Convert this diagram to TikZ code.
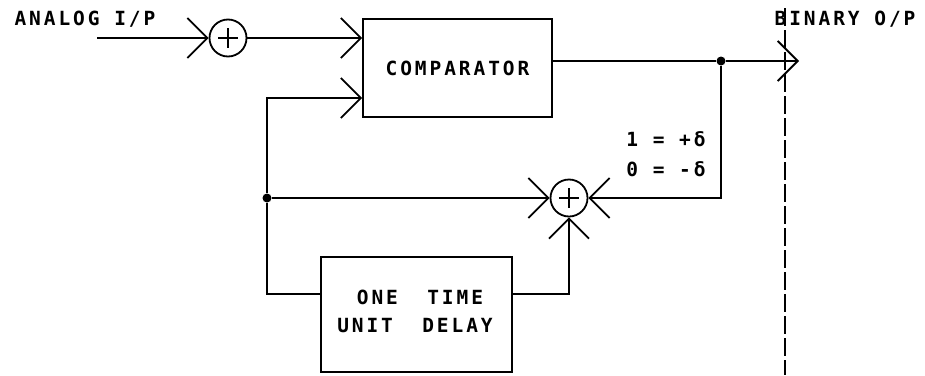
\documentclass[tikz,border=0pt]{standalone}
\usepackage{fontspec}
\newfontfamily\plotfont[LetterSpace=15]{DejaVu Sans Mono Bold}
\usetikzlibrary{arrows.meta}
\begin{document}
\begin{tikzpicture}[x=1pt,y=-1pt,
  line width=1.8pt,
  lbl/.style={font=\plotfont\fontsize{19.5}{21}\selectfont, inner sep=0pt, text height=14pt, text depth=0pt},
  blk/.style={draw, inner sep=0pt},
  sumj/.style={draw, circle, minimum size=37pt, inner sep=0pt},
  dot/.style={circle, fill, inner sep=0pt, minimum size=9pt},
  barb/.style={-{Straight Barb[length=20pt,width=40pt]}},
  plus/.style={line width=2.6pt},
  divider/.style={line width=2pt, dash pattern=on 18pt off 4pt}
]
\useasboundingbox (0,0) rectangle (925,375);

% blocks
\node[blk, lbl, minimum width=189pt, minimum height=98pt] (comp) at (457.5,68) {COMPARATOR};
\node[blk, minimum width=191pt, minimum height=115pt] (delay) at (416.5,314.5) {};
\node[lbl] (t1) at (420,297) {ONE~~TIME};
\node[lbl] (t2) at (415,325) {UNIT~~DELAY};

% summing junctions
\node[sumj] (s1) at (228,38) {};
\node[sumj] (s2) at (569,198) {};
\draw[plus] (s1.center) +(-10,0) -- +(10,0) (s1.center) +(0,-10) -- +(0,10);
\draw[plus] (s2.center) +(-10,0) -- +(10,0) (s2.center) +(0,-10) -- +(0,10);

% junction dots
\node[dot] (j1) at (721,61) {};
\node[dot] (j2) at (267,198) {};

% helper coordinates
\coordinate (ain) at (97,38);
\coordinate (out) at (799,61);
\coordinate (lv) at (0,294);
\coordinate (lv2) at (0,98);
\coordinate (dtop) at (785,8);
\coordinate (dbot) at (785,375);

% labels
\node[lbl] (anl) at (85,18) {ANALOG I/P};
\node[lbl] (bin) at (845,18) {BINARY O/P};
\node[lbl] (l1) at (666,139) {1 = +δ};
\node[lbl] (l2) at (666,169) {0 = -δ};

% connectors
\draw[barb] (ain) -- (s1);
\draw[barb] (s1) -- (s1 -| comp.west);
\draw[barb] (j2) |- (comp.west |- lv2);
\draw (j2) |- (delay.west |- lv);
\draw[barb] (delay.east |- lv) -| (s2);
\draw[barb] (j2) -- (s2);
\draw[barb] (j1) |- (s2);
\draw (comp.east |- j1) -- (j1);
\draw[barb] (j1) -- (out);

% output divider
\draw[divider] (dtop) -- (dbot);
\end{tikzpicture}
\end{document}
